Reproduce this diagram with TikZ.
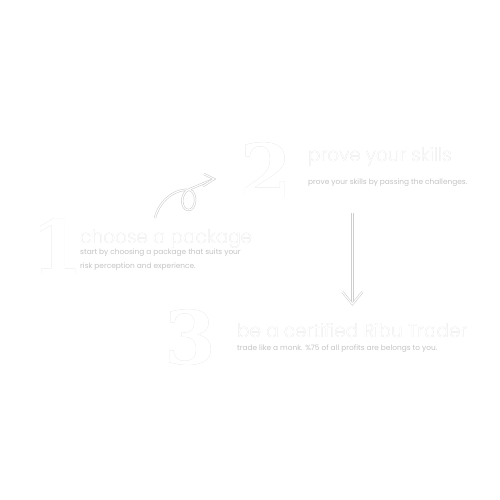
\documentclass[tikz,border=0pt]{standalone}
\usepackage{fontspec}
\setmainfont{Poppins}
\newfontfamily\thinfont{Poppins Light}
\newfontfamily\numfont{DejaVu Serif}
\usepackage{xcolor}
\usepackage[outline]{contour}
\definecolor{myl}{RGB}{206, 206, 206}
\definecolor{myt}{RGB}{196, 196, 196}
\usetikzlibrary{arrows.meta, positioning}
\contournumber{24}
\newcommand{\hollow}[2][0.3pt]{\contourlength{#1}\contour{myl}{\textcolor{white}{#2}}}

\begin{document}
\begin{tikzpicture}[x=1pt, y=-1pt,
    bignum/.style={font=\numfont\bfseries\fontsize{74}{74}\selectfont, anchor=base west, inner sep=0pt},
    heading/.style={font=\thinfont\fontsize{18.5}{18.5}\selectfont, anchor=base west, inner sep=0pt},
    blurb/.style={font=\fontsize{7.4}{13.5}\selectfont, text=myt, anchor=north west, inner sep=0pt, align=left},
    hollowline/.style={draw=myl, line width=0.55pt, double=white, double distance=1.1pt}]
		\useasboundingbox[fill=white] (0,0) rectangle (500,500);
		% step one
		\node[bignum] (num1) at (31,273) {\hollow[0.6pt]{1}};
		\node[heading] (head1) at (80,243) {\hollow{choose a package}};
		\node[blurb] (body1) at (80,249) {start by choosing a package that suits your\\risk perception and experience.};
		% step two
		\node[bignum] (num2) at (240,197) {\hollow[0.6pt]{2}};
		\node[heading] (head2) at (308,161) {\hollow{prove your skills}};
		\node[blurb] (body2) at (308,179) {prove your skills by passing the challenges.};
		% step three
		\node[bignum] (num3) at (164,364) {\hollow[0.6pt]{3}};
		\node[heading] (head3) at (237,337) {\hollow{be a certified Ribu Trader}};
		\node[blurb] (body3) at (237,345) {trade like a monk. \%75 of all profits are belongs to you.};
		% arrows
		\coordinate (c1) at (155,218);
		\coordinate (c2) at (214,179);
		\coordinate (d1) at (352.4,213);
		\coordinate (d2) at (352.4,304);
		\draw[hollowline] (c1) .. controls (160,198) and (178,188) .. (190,190)
			.. controls (198,193) and (196,211) .. (188,210)
			.. controls (180,209) and (180,192) .. (190,189) -- (c2);
		\draw[hollowline] (204,174) -- (c2) -- (203,186);
		\draw[hollowline] (d1) -- (d2);
		\draw[hollowline] (342.4,292) -- (d2) -- (362.4,292);
	\end{tikzpicture}
\end{document}
